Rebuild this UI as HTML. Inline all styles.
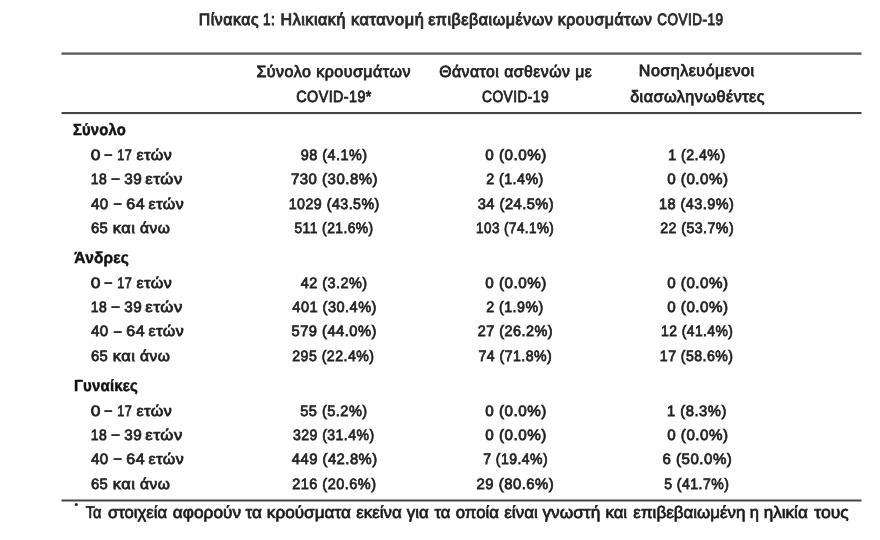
<!DOCTYPE html>
<html><head><meta charset="utf-8"><style>
html,body{margin:0;padding:0;background:#fff;width:880px;height:540px;overflow:hidden}
svg{display:block;filter:blur(0.3px);}
text{font-family:"Liberation Sans",sans-serif;white-space:pre;text-rendering:geometricPrecision}
</style></head><body>
<svg width="880" height="540" viewBox="0 0 880 540">
<rect x="0" y="0" width="880" height="540" fill="#fff"/>
<rect x="61.5" y="52.45" width="800" height="2.3" fill="#5a5a5a"/>
<rect x="61.5" y="112" width="800" height="2.1" fill="#444"/>
<rect x="61.5" y="499.5" width="800" height="2" fill="#444"/>
<circle cx="76.3" cy="504.4" r="1.5" fill="#222"/>
<text letter-spacing="0.6" x="198.73" y="24.70" font-size="16.5" font-weight="normal" fill="#2a2a2a" stroke="#2a2a2a" stroke-width="0.95" textLength="60.46" lengthAdjust="spacingAndGlyphs">Πίνακας</text>
<text letter-spacing="0.6" x="262.88" y="24.70" font-size="16.5" font-weight="normal" fill="#2a2a2a" stroke="#2a2a2a" stroke-width="0.95" textLength="12.30" lengthAdjust="spacingAndGlyphs">1:</text>
<text letter-spacing="0.6" x="280.51" y="24.70" font-size="16.5" font-weight="normal" fill="#2a2a2a" stroke="#2a2a2a" stroke-width="0.95" textLength="65.41" lengthAdjust="spacingAndGlyphs">Ηλικιακή</text>
<text letter-spacing="0.6" x="350.93" y="24.70" font-size="16.5" font-weight="normal" fill="#2a2a2a" stroke="#2a2a2a" stroke-width="0.95" textLength="73.38" lengthAdjust="spacingAndGlyphs">κατανομή</text>
<text letter-spacing="0.6" x="428.14" y="24.70" font-size="16.5" font-weight="normal" fill="#2a2a2a" stroke="#2a2a2a" stroke-width="0.95" textLength="125.28" lengthAdjust="spacingAndGlyphs">επιβεβαιωμένων</text>
<text letter-spacing="0.6" x="557.69" y="24.70" font-size="16.5" font-weight="normal" fill="#2a2a2a" stroke="#2a2a2a" stroke-width="0.95" textLength="94.73" lengthAdjust="spacingAndGlyphs">κρουσμάτων</text>
<text letter-spacing="0.6" x="657.25" y="24.70" font-size="16.5" font-weight="normal" fill="#2a2a2a" stroke="#2a2a2a" stroke-width="0.95" textLength="66.15" lengthAdjust="spacingAndGlyphs">COVID-19</text>
<text letter-spacing="0.5" x="256.48" y="76.50" font-size="16.2" font-weight="normal" fill="#222" stroke="#222" stroke-width="0.8" textLength="154.41" lengthAdjust="spacingAndGlyphs">Σύνολο κρουσμάτων</text>
<text letter-spacing="0.5" x="296.36" y="101.50" font-size="16.2" font-weight="normal" fill="#222" stroke="#222" stroke-width="0.8" textLength="75.47" lengthAdjust="spacingAndGlyphs">COVID-19*</text>
<text letter-spacing="0.5" x="439.14" y="76.60" font-size="16.2" font-weight="normal" fill="#222" stroke="#222" stroke-width="0.8" textLength="153.24" lengthAdjust="spacingAndGlyphs">Θάνατοι ασθενών με</text>
<text letter-spacing="0.5" x="482.09" y="101.50" font-size="16.2" font-weight="normal" fill="#222" stroke="#222" stroke-width="0.8" textLength="66.96" lengthAdjust="spacingAndGlyphs">COVID-19</text>
<text letter-spacing="0.5" x="638.85" y="76.40" font-size="16.2" font-weight="normal" fill="#222" stroke="#222" stroke-width="0.8" textLength="115.63" lengthAdjust="spacingAndGlyphs">Νοσηλευόμενοι</text>
<text letter-spacing="0.5" x="630.15" y="101.50" font-size="16.2" font-weight="normal" fill="#222" stroke="#222" stroke-width="0.8" textLength="134.96" lengthAdjust="spacingAndGlyphs">διασωληνωθέντες</text>
<text letter-spacing="0.2" x="72.99" y="135.30" font-size="16" font-weight="bold" fill="#111" stroke="#111" stroke-width="0.5" textLength="52.94" lengthAdjust="spacingAndGlyphs">Σύνολο</text>
<text letter-spacing="0.2" x="74.34" y="263.00" font-size="16" font-weight="bold" fill="#111" stroke="#111" stroke-width="0.5" textLength="54.74" lengthAdjust="spacingAndGlyphs">Άνδρες</text>
<text letter-spacing="0.2" x="73.91" y="390.90" font-size="16" font-weight="bold" fill="#111" stroke="#111" stroke-width="0.5" textLength="64.10" lengthAdjust="spacingAndGlyphs">Γυναίκες</text>
<text letter-spacing="0.5" x="90.89" y="160.00" font-size="15" font-weight="normal" fill="#222" stroke="#222" stroke-width="0.75" textLength="10.27" lengthAdjust="spacingAndGlyphs">0</text>
<text letter-spacing="0.5" x="104.78" y="159.20" font-size="15" font-weight="normal" fill="#222" stroke="#222" stroke-width="0.75" textLength="7.58" lengthAdjust="spacingAndGlyphs">–</text>
<text letter-spacing="0.5" x="117.34" y="160.00" font-size="15" font-weight="normal" fill="#222" stroke="#222" stroke-width="0.75" textLength="14.96" lengthAdjust="spacingAndGlyphs">17</text>
<text letter-spacing="0.5" x="136.48" y="160.00" font-size="15" font-weight="normal" fill="#222" stroke="#222" stroke-width="0.75" textLength="35.97" lengthAdjust="spacingAndGlyphs">ετών</text>
<text letter-spacing="0.5" x="300.83" y="160.00" font-size="15" font-weight="normal" fill="#222" stroke="#222" stroke-width="0.75" textLength="66.79" lengthAdjust="spacingAndGlyphs">98 (4.1%)</text>
<text letter-spacing="0.5" x="485.31" y="160.00" font-size="15" font-weight="normal" fill="#222" stroke="#222" stroke-width="0.75" textLength="61.66" lengthAdjust="spacingAndGlyphs">0 (0.0%)</text>
<text letter-spacing="0.5" x="668.16" y="160.00" font-size="15" font-weight="normal" fill="#222" stroke="#222" stroke-width="0.75" textLength="57.45" lengthAdjust="spacingAndGlyphs">1 (2.4%)</text>
<text letter-spacing="0.5" x="90.79" y="184.27" font-size="15" font-weight="normal" fill="#222" stroke="#222" stroke-width="0.75" textLength="16.46" lengthAdjust="spacingAndGlyphs">18</text>
<text letter-spacing="0.5" x="111.86" y="183.47" font-size="15" font-weight="normal" fill="#222" stroke="#222" stroke-width="0.75" textLength="8.08" lengthAdjust="spacingAndGlyphs">–</text>
<text letter-spacing="0.5" x="124.34" y="184.27" font-size="15" font-weight="normal" fill="#222" stroke="#222" stroke-width="0.75" textLength="18.02" lengthAdjust="spacingAndGlyphs">39</text>
<text letter-spacing="0.5" x="145.38" y="184.27" font-size="15" font-weight="normal" fill="#222" stroke="#222" stroke-width="0.75" textLength="37.48" lengthAdjust="spacingAndGlyphs">ετών</text>
<text letter-spacing="0.5" x="290.94" y="184.27" font-size="15" font-weight="normal" fill="#222" stroke="#222" stroke-width="0.75" textLength="87.16" lengthAdjust="spacingAndGlyphs">730 (30.8%)</text>
<text letter-spacing="0.5" x="486.19" y="184.27" font-size="15" font-weight="normal" fill="#222" stroke="#222" stroke-width="0.75" textLength="57.57" lengthAdjust="spacingAndGlyphs">2 (1.4%)</text>
<text letter-spacing="0.5" x="667.19" y="184.27" font-size="15" font-weight="normal" fill="#222" stroke="#222" stroke-width="0.75" textLength="61.40" lengthAdjust="spacingAndGlyphs">0 (0.0%)</text>
<text letter-spacing="0.5" x="90.95" y="208.54" font-size="15" font-weight="normal" fill="#222" stroke="#222" stroke-width="0.75" textLength="17.85" lengthAdjust="spacingAndGlyphs">40</text>
<text letter-spacing="0.5" x="114.02" y="207.74" font-size="15" font-weight="normal" fill="#222" stroke="#222" stroke-width="0.75" textLength="7.76" lengthAdjust="spacingAndGlyphs">–</text>
<text letter-spacing="0.5" x="126.21" y="208.54" font-size="15" font-weight="normal" fill="#222" stroke="#222" stroke-width="0.75" textLength="18.86" lengthAdjust="spacingAndGlyphs">64</text>
<text letter-spacing="0.5" x="148.61" y="208.54" font-size="15" font-weight="normal" fill="#222" stroke="#222" stroke-width="0.75" textLength="35.77" lengthAdjust="spacingAndGlyphs">ετών</text>
<text letter-spacing="0.5" x="288.69" y="208.54" font-size="15" font-weight="normal" fill="#222" stroke="#222" stroke-width="0.75" textLength="91.13" lengthAdjust="spacingAndGlyphs">1029 (43.5%)</text>
<text letter-spacing="0.5" x="477.69" y="208.54" font-size="15" font-weight="normal" fill="#222" stroke="#222" stroke-width="0.75" textLength="76.55" lengthAdjust="spacingAndGlyphs">34 (24.5%)</text>
<text letter-spacing="0.5" x="659.08" y="208.54" font-size="15" font-weight="normal" fill="#222" stroke="#222" stroke-width="0.75" textLength="75.28" lengthAdjust="spacingAndGlyphs">18 (43.9%)</text>
<text letter-spacing="0.5" x="90.88" y="232.81" font-size="15" font-weight="normal" fill="#222" stroke="#222" stroke-width="0.75" textLength="17.40" lengthAdjust="spacingAndGlyphs">65</text>
<text letter-spacing="0.5" x="112.65" y="232.81" font-size="15" font-weight="normal" fill="#222" stroke="#222" stroke-width="0.75" textLength="22.67" lengthAdjust="spacingAndGlyphs">και</text>
<text letter-spacing="0.5" x="139.90" y="232.81" font-size="15" font-weight="normal" fill="#222" stroke="#222" stroke-width="0.75" textLength="30.54" lengthAdjust="spacingAndGlyphs">άνω</text>
<text letter-spacing="0.5" x="294.39" y="232.81" font-size="15" font-weight="normal" fill="#222" stroke="#222" stroke-width="0.75" textLength="79.30" lengthAdjust="spacingAndGlyphs">511 (21.6%)</text>
<text letter-spacing="0.5" x="476.08" y="232.81" font-size="15" font-weight="normal" fill="#222" stroke="#222" stroke-width="0.75" textLength="78.16" lengthAdjust="spacingAndGlyphs">103 (74.1%)</text>
<text letter-spacing="0.5" x="660.18" y="232.81" font-size="15" font-weight="normal" fill="#222" stroke="#222" stroke-width="0.75" textLength="73.92" lengthAdjust="spacingAndGlyphs">22 (53.7%)</text>
<text letter-spacing="0.5" x="90.89" y="287.85" font-size="15" font-weight="normal" fill="#222" stroke="#222" stroke-width="0.75" textLength="10.27" lengthAdjust="spacingAndGlyphs">0</text>
<text letter-spacing="0.5" x="104.78" y="287.05" font-size="15" font-weight="normal" fill="#222" stroke="#222" stroke-width="0.75" textLength="7.58" lengthAdjust="spacingAndGlyphs">–</text>
<text letter-spacing="0.5" x="117.34" y="287.85" font-size="15" font-weight="normal" fill="#222" stroke="#222" stroke-width="0.75" textLength="14.96" lengthAdjust="spacingAndGlyphs">17</text>
<text letter-spacing="0.5" x="136.48" y="287.85" font-size="15" font-weight="normal" fill="#222" stroke="#222" stroke-width="0.75" textLength="35.97" lengthAdjust="spacingAndGlyphs">ετών</text>
<text letter-spacing="0.5" x="300.74" y="287.85" font-size="15" font-weight="normal" fill="#222" stroke="#222" stroke-width="0.75" textLength="66.87" lengthAdjust="spacingAndGlyphs">42 (3.2%)</text>
<text letter-spacing="0.5" x="485.31" y="287.85" font-size="15" font-weight="normal" fill="#222" stroke="#222" stroke-width="0.75" textLength="61.66" lengthAdjust="spacingAndGlyphs">0 (0.0%)</text>
<text letter-spacing="0.5" x="667.19" y="287.85" font-size="15" font-weight="normal" fill="#222" stroke="#222" stroke-width="0.75" textLength="61.40" lengthAdjust="spacingAndGlyphs">0 (0.0%)</text>
<text letter-spacing="0.5" x="90.79" y="312.12" font-size="15" font-weight="normal" fill="#222" stroke="#222" stroke-width="0.75" textLength="16.46" lengthAdjust="spacingAndGlyphs">18</text>
<text letter-spacing="0.5" x="111.86" y="311.32" font-size="15" font-weight="normal" fill="#222" stroke="#222" stroke-width="0.75" textLength="8.08" lengthAdjust="spacingAndGlyphs">–</text>
<text letter-spacing="0.5" x="124.34" y="312.12" font-size="15" font-weight="normal" fill="#222" stroke="#222" stroke-width="0.75" textLength="18.02" lengthAdjust="spacingAndGlyphs">39</text>
<text letter-spacing="0.5" x="145.38" y="312.12" font-size="15" font-weight="normal" fill="#222" stroke="#222" stroke-width="0.75" textLength="37.48" lengthAdjust="spacingAndGlyphs">ετών</text>
<text letter-spacing="0.5" x="292.36" y="312.12" font-size="15" font-weight="normal" fill="#222" stroke="#222" stroke-width="0.75" textLength="84.54" lengthAdjust="spacingAndGlyphs">401 (30.4%)</text>
<text letter-spacing="0.5" x="486.19" y="312.12" font-size="15" font-weight="normal" fill="#222" stroke="#222" stroke-width="0.75" textLength="57.57" lengthAdjust="spacingAndGlyphs">2 (1.9%)</text>
<text letter-spacing="0.5" x="667.19" y="312.12" font-size="15" font-weight="normal" fill="#222" stroke="#222" stroke-width="0.75" textLength="61.40" lengthAdjust="spacingAndGlyphs">0 (0.0%)</text>
<text letter-spacing="0.5" x="90.95" y="336.39" font-size="15" font-weight="normal" fill="#222" stroke="#222" stroke-width="0.75" textLength="17.85" lengthAdjust="spacingAndGlyphs">40</text>
<text letter-spacing="0.5" x="114.02" y="335.59" font-size="15" font-weight="normal" fill="#222" stroke="#222" stroke-width="0.75" textLength="7.76" lengthAdjust="spacingAndGlyphs">–</text>
<text letter-spacing="0.5" x="126.21" y="336.39" font-size="15" font-weight="normal" fill="#222" stroke="#222" stroke-width="0.75" textLength="18.86" lengthAdjust="spacingAndGlyphs">64</text>
<text letter-spacing="0.5" x="148.61" y="336.39" font-size="15" font-weight="normal" fill="#222" stroke="#222" stroke-width="0.75" textLength="35.77" lengthAdjust="spacingAndGlyphs">ετών</text>
<text letter-spacing="0.5" x="291.52" y="336.39" font-size="15" font-weight="normal" fill="#222" stroke="#222" stroke-width="0.75" textLength="85.36" lengthAdjust="spacingAndGlyphs">579 (44.0%)</text>
<text letter-spacing="0.5" x="477.64" y="336.39" font-size="15" font-weight="normal" fill="#222" stroke="#222" stroke-width="0.75" textLength="75.48" lengthAdjust="spacingAndGlyphs">27 (26.2%)</text>
<text letter-spacing="0.5" x="660.98" y="336.39" font-size="15" font-weight="normal" fill="#222" stroke="#222" stroke-width="0.75" textLength="72.45" lengthAdjust="spacingAndGlyphs">12 (41.4%)</text>
<text letter-spacing="0.5" x="90.88" y="360.66" font-size="15" font-weight="normal" fill="#222" stroke="#222" stroke-width="0.75" textLength="17.40" lengthAdjust="spacingAndGlyphs">65</text>
<text letter-spacing="0.5" x="112.65" y="360.66" font-size="15" font-weight="normal" fill="#222" stroke="#222" stroke-width="0.75" textLength="22.67" lengthAdjust="spacingAndGlyphs">και</text>
<text letter-spacing="0.5" x="139.90" y="360.66" font-size="15" font-weight="normal" fill="#222" stroke="#222" stroke-width="0.75" textLength="30.54" lengthAdjust="spacingAndGlyphs">άνω</text>
<text letter-spacing="0.5" x="292.29" y="360.66" font-size="15" font-weight="normal" fill="#222" stroke="#222" stroke-width="0.75" textLength="82.22" lengthAdjust="spacingAndGlyphs">295 (22.4%)</text>
<text letter-spacing="0.5" x="478.49" y="360.66" font-size="15" font-weight="normal" fill="#222" stroke="#222" stroke-width="0.75" textLength="73.76" lengthAdjust="spacingAndGlyphs">74 (71.8%)</text>
<text letter-spacing="0.5" x="659.84" y="360.66" font-size="15" font-weight="normal" fill="#222" stroke="#222" stroke-width="0.75" textLength="73.65" lengthAdjust="spacingAndGlyphs">17 (58.6%)</text>
<text letter-spacing="0.5" x="90.89" y="415.70" font-size="15" font-weight="normal" fill="#222" stroke="#222" stroke-width="0.75" textLength="10.27" lengthAdjust="spacingAndGlyphs">0</text>
<text letter-spacing="0.5" x="104.78" y="414.90" font-size="15" font-weight="normal" fill="#222" stroke="#222" stroke-width="0.75" textLength="7.58" lengthAdjust="spacingAndGlyphs">–</text>
<text letter-spacing="0.5" x="117.34" y="415.70" font-size="15" font-weight="normal" fill="#222" stroke="#222" stroke-width="0.75" textLength="14.96" lengthAdjust="spacingAndGlyphs">17</text>
<text letter-spacing="0.5" x="136.48" y="415.70" font-size="15" font-weight="normal" fill="#222" stroke="#222" stroke-width="0.75" textLength="35.97" lengthAdjust="spacingAndGlyphs">ετών</text>
<text letter-spacing="0.5" x="300.27" y="415.70" font-size="15" font-weight="normal" fill="#222" stroke="#222" stroke-width="0.75" textLength="67.42" lengthAdjust="spacingAndGlyphs">55 (5.2%)</text>
<text letter-spacing="0.5" x="485.31" y="415.70" font-size="15" font-weight="normal" fill="#222" stroke="#222" stroke-width="0.75" textLength="61.66" lengthAdjust="spacingAndGlyphs">0 (0.0%)</text>
<text letter-spacing="0.5" x="667.07" y="415.70" font-size="15" font-weight="normal" fill="#222" stroke="#222" stroke-width="0.75" textLength="59.78" lengthAdjust="spacingAndGlyphs">1 (8.3%)</text>
<text letter-spacing="0.5" x="90.79" y="439.97" font-size="15" font-weight="normal" fill="#222" stroke="#222" stroke-width="0.75" textLength="16.46" lengthAdjust="spacingAndGlyphs">18</text>
<text letter-spacing="0.5" x="111.86" y="439.17" font-size="15" font-weight="normal" fill="#222" stroke="#222" stroke-width="0.75" textLength="8.08" lengthAdjust="spacingAndGlyphs">–</text>
<text letter-spacing="0.5" x="124.34" y="439.97" font-size="15" font-weight="normal" fill="#222" stroke="#222" stroke-width="0.75" textLength="18.02" lengthAdjust="spacingAndGlyphs">39</text>
<text letter-spacing="0.5" x="145.38" y="439.97" font-size="15" font-weight="normal" fill="#222" stroke="#222" stroke-width="0.75" textLength="37.48" lengthAdjust="spacingAndGlyphs">ετών</text>
<text letter-spacing="0.5" x="292.96" y="439.97" font-size="15" font-weight="normal" fill="#222" stroke="#222" stroke-width="0.75" textLength="81.67" lengthAdjust="spacingAndGlyphs">329 (31.4%)</text>
<text letter-spacing="0.5" x="485.31" y="439.97" font-size="15" font-weight="normal" fill="#222" stroke="#222" stroke-width="0.75" textLength="61.66" lengthAdjust="spacingAndGlyphs">0 (0.0%)</text>
<text letter-spacing="0.5" x="667.19" y="439.97" font-size="15" font-weight="normal" fill="#222" stroke="#222" stroke-width="0.75" textLength="61.40" lengthAdjust="spacingAndGlyphs">0 (0.0%)</text>
<text letter-spacing="0.5" x="90.95" y="464.24" font-size="15" font-weight="normal" fill="#222" stroke="#222" stroke-width="0.75" textLength="17.85" lengthAdjust="spacingAndGlyphs">40</text>
<text letter-spacing="0.5" x="114.02" y="463.44" font-size="15" font-weight="normal" fill="#222" stroke="#222" stroke-width="0.75" textLength="7.76" lengthAdjust="spacingAndGlyphs">–</text>
<text letter-spacing="0.5" x="126.21" y="464.24" font-size="15" font-weight="normal" fill="#222" stroke="#222" stroke-width="0.75" textLength="18.86" lengthAdjust="spacingAndGlyphs">64</text>
<text letter-spacing="0.5" x="148.61" y="464.24" font-size="15" font-weight="normal" fill="#222" stroke="#222" stroke-width="0.75" textLength="35.77" lengthAdjust="spacingAndGlyphs">ετών</text>
<text letter-spacing="0.5" x="291.86" y="464.24" font-size="15" font-weight="normal" fill="#222" stroke="#222" stroke-width="0.75" textLength="85.71" lengthAdjust="spacingAndGlyphs">449 (42.8%)</text>
<text letter-spacing="0.5" x="483.18" y="464.24" font-size="15" font-weight="normal" fill="#222" stroke="#222" stroke-width="0.75" textLength="64.93" lengthAdjust="spacingAndGlyphs">7 (19.4%)</text>
<text letter-spacing="0.5" x="662.50" y="464.24" font-size="15" font-weight="normal" fill="#222" stroke="#222" stroke-width="0.75" textLength="69.83" lengthAdjust="spacingAndGlyphs">6 (50.0%)</text>
<text letter-spacing="0.5" x="90.88" y="488.51" font-size="15" font-weight="normal" fill="#222" stroke="#222" stroke-width="0.75" textLength="17.40" lengthAdjust="spacingAndGlyphs">65</text>
<text letter-spacing="0.5" x="112.65" y="488.51" font-size="15" font-weight="normal" fill="#222" stroke="#222" stroke-width="0.75" textLength="22.67" lengthAdjust="spacingAndGlyphs">και</text>
<text letter-spacing="0.5" x="139.90" y="488.51" font-size="15" font-weight="normal" fill="#222" stroke="#222" stroke-width="0.75" textLength="30.54" lengthAdjust="spacingAndGlyphs">άνω</text>
<text letter-spacing="0.5" x="292.20" y="488.51" font-size="15" font-weight="normal" fill="#222" stroke="#222" stroke-width="0.75" textLength="84.26" lengthAdjust="spacingAndGlyphs">216 (20.6%)</text>
<text letter-spacing="0.5" x="476.61" y="488.51" font-size="15" font-weight="normal" fill="#222" stroke="#222" stroke-width="0.75" textLength="77.58" lengthAdjust="spacingAndGlyphs">29 (80.6%)</text>
<text letter-spacing="0.5" x="664.18" y="488.51" font-size="15" font-weight="normal" fill="#222" stroke="#222" stroke-width="0.75" textLength="65.13" lengthAdjust="spacingAndGlyphs">5 (41.7%)</text>
<text x="85.74" y="518.30" font-size="16.8" font-weight="normal" fill="#1a1a1a" stroke="#1a1a1a" stroke-width="0.7" textLength="15.84" lengthAdjust="spacingAndGlyphs">Τα</text>
<text x="107.97" y="518.30" font-size="16.8" font-weight="normal" fill="#1a1a1a" stroke="#1a1a1a" stroke-width="0.7" textLength="59.04" lengthAdjust="spacingAndGlyphs">στοιχεία</text>
<text x="172.85" y="518.30" font-size="16.8" font-weight="normal" fill="#1a1a1a" stroke="#1a1a1a" stroke-width="0.7" textLength="68.19" lengthAdjust="spacingAndGlyphs">αφορούν</text>
<text x="245.40" y="518.30" font-size="16.8" font-weight="normal" fill="#1a1a1a" stroke="#1a1a1a" stroke-width="0.7" textLength="16.45" lengthAdjust="spacingAndGlyphs">τα</text>
<text x="266.85" y="518.30" font-size="16.8" font-weight="normal" fill="#1a1a1a" stroke="#1a1a1a" stroke-width="0.7" textLength="84.05" lengthAdjust="spacingAndGlyphs">κρούσματα</text>
<text x="356.27" y="518.30" font-size="16.8" font-weight="normal" fill="#1a1a1a" stroke="#1a1a1a" stroke-width="0.7" textLength="45.52" lengthAdjust="spacingAndGlyphs">εκείνα</text>
<text x="406.83" y="518.30" font-size="16.8" font-weight="normal" fill="#1a1a1a" stroke="#1a1a1a" stroke-width="0.7" textLength="21.91" lengthAdjust="spacingAndGlyphs">για</text>
<text x="434.51" y="518.30" font-size="16.8" font-weight="normal" fill="#1a1a1a" stroke="#1a1a1a" stroke-width="0.7" textLength="16.02" lengthAdjust="spacingAndGlyphs">τα</text>
<text x="455.77" y="518.30" font-size="16.8" font-weight="normal" fill="#1a1a1a" stroke="#1a1a1a" stroke-width="0.7" textLength="43.22" lengthAdjust="spacingAndGlyphs">οποία</text>
<text x="504.27" y="518.30" font-size="16.8" font-weight="normal" fill="#1a1a1a" stroke="#1a1a1a" stroke-width="0.7" textLength="33.48" lengthAdjust="spacingAndGlyphs">είναι</text>
<text x="542.45" y="518.30" font-size="16.8" font-weight="normal" fill="#1a1a1a" stroke="#1a1a1a" stroke-width="0.7" textLength="57.85" lengthAdjust="spacingAndGlyphs">γνωστή</text>
<text x="605.46" y="518.30" font-size="16.8" font-weight="normal" fill="#1a1a1a" stroke="#1a1a1a" stroke-width="0.7" textLength="21.61" lengthAdjust="spacingAndGlyphs">και</text>
<text x="633.37" y="518.30" font-size="16.8" font-weight="normal" fill="#1a1a1a" stroke="#1a1a1a" stroke-width="0.7" textLength="112.13" lengthAdjust="spacingAndGlyphs">επιβεβαιωμένη</text>
<text x="749.84" y="518.30" font-size="16.8" font-weight="normal" fill="#1a1a1a" stroke="#1a1a1a" stroke-width="0.7" textLength="9.21" lengthAdjust="spacingAndGlyphs">η</text>
<text x="763.71" y="518.30" font-size="16.8" font-weight="normal" fill="#1a1a1a" stroke="#1a1a1a" stroke-width="0.7" textLength="44.08" lengthAdjust="spacingAndGlyphs">ηλικία</text>
<text x="814.34" y="518.30" font-size="16.8" font-weight="normal" fill="#1a1a1a" stroke="#1a1a1a" stroke-width="0.7" textLength="34.44" lengthAdjust="spacingAndGlyphs">τους</text>
</svg>
</body></html>
